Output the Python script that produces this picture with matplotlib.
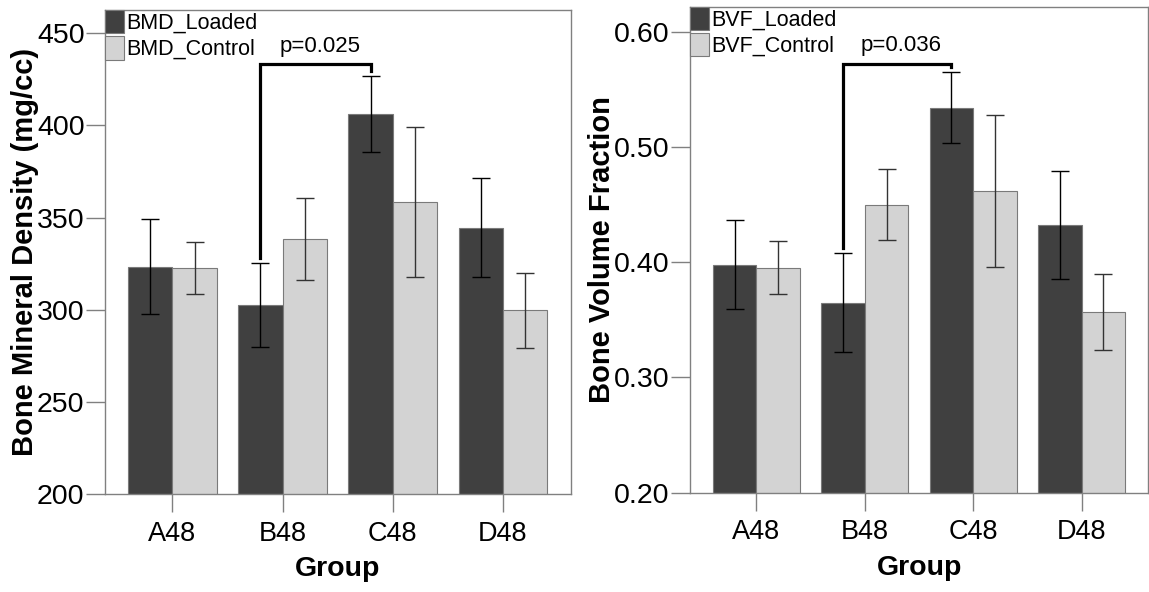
import numpy as np
import matplotlib.pyplot as plt
from matplotlib.patches import Patch

plt.rcParams['font.family'] = ['Liberation Sans', 'DejaVu Sans']

# Data
groups = ['A48', 'B48', 'C48', 'D48']

bmd_loaded = [323.5, 302.5, 406.3, 344.5]
bmd_loaded_err = [25.8, 22.8, 20.7, 26.9]
bmd_control = [322.8, 338.2, 358.5, 299.8]
bmd_control_err = [14.1, 22.2, 40.6, 20.3]
bmd_labels = ['BMD_Loaded', 'BMD_Control']
bmd_p = 'p=0.025'
bmd_bracket_top = 433.2

bvf_loaded = [0.398, 0.365, 0.534, 0.432]
bvf_loaded_err = [0.039, 0.043, 0.031, 0.047]
bvf_control = [0.395, 0.450, 0.462, 0.357]
bvf_control_err = [0.023, 0.031, 0.066, 0.033]
bvf_labels = ['BVF_Loaded', 'BVF_Control']
bvf_p = 'p=0.036'
bvf_bracket_top = 0.572

# styling
dark = '#404040'
light = '#d3d3d3'
edge = '#7a7a7a'
spine_col = '#808080'
w = 0.402  # bar width


def panel(ax, loaded, loaded_err, control, control_err, labels, ptxt,
          btop, ylim, yticks, fmt, ylabel, ylab_x):
    x = np.arange(len(groups))
    ax.bar(x - w / 2, loaded, w, color=dark, edgecolor=edge, linewidth=0.8, zorder=2)
    ax.bar(x + w / 2, control, w, color=light, edgecolor=edge, linewidth=0.8, zorder=2)
    ax.errorbar(x - w / 2, loaded, yerr=loaded_err, fmt='none', ecolor='black',
                elinewidth=1, capsize=6.5, capthick=1, zorder=3)
    ax.errorbar(x + w / 2, control, yerr=control_err, fmt='none', ecolor='#333333',
                elinewidth=1, capsize=6.5, capthick=1, zorder=3)

    ax.set_xlim(-0.612, 3.618)
    ax.set_ylim(*ylim)
    ax.set_yticks(yticks)
    ax.set_yticklabels([fmt.format(t) for t in yticks])
    ax.set_xticks(x)
    ax.set_xticklabels(groups)

    for s in ax.spines.values():
        s.set_color(spine_col)
        s.set_linewidth(1)
    ax.tick_params(axis='y', length=13.7, width=1, color=spine_col, pad=1, labelsize=20.5)
    ax.tick_params(axis='x', length=13, width=1, color=spine_col, pad=6, labelsize=19.5)

    ax.set_ylabel(ylabel, fontsize=21, fontweight='bold')
    ax.yaxis.label.set_va('center')
    ax.yaxis.set_label_coords(ylab_x, 0.5)
    ax.set_xlabel('Group', fontsize=20.5, fontweight='bold')
    ax.xaxis.label.set_va('center')
    ax.xaxis.set_label_coords(0.5, -0.155)

    # significance bracket between B48 loaded and C48 loaded
    rng = ylim[1] - ylim[0]
    gap = 0.01 * rng
    xl, xr = x[1] - w / 2, x[2] - w / 2
    yl = loaded[1] + loaded_err[1] + gap
    yr = loaded[2] + loaded_err[2] + gap
    ax.plot([xl, xl, xr, xr], [yl, btop, btop, yr], color='black', lw=2.3,
            solid_joinstyle='miter', zorder=4)
    ax.text((xl + xr) / 2 + 0.04, btop + 0.037 * rng, ptxt, fontsize=16,
            ha='center', va='center')

    handles = [Patch(facecolor=dark, edgecolor=edge, linewidth=0.8),
               Patch(facecolor=light, edgecolor=edge, linewidth=0.8)]
    ax.legend(handles, labels, loc='upper left', frameon=False, fontsize=15.5,
              handlelength=0.9, handleheight=1.3, handletextpad=0.1,
              labelspacing=0.1, borderaxespad=0.0, borderpad=0.0)


fig = plt.figure(figsize=(11.49, 5.92), dpi=100)
ax1 = fig.add_axes([0.09138, 0.16503, 0.40557, 0.81807])
ax2 = fig.add_axes([0.60052, 0.16774, 0.39904, 0.82095])

panel(ax1, bmd_loaded, bmd_loaded_err, bmd_control, bmd_control_err, bmd_labels,
      bmd_p, bmd_bracket_top, (200, 462.6), [200, 250, 300, 350, 400, 450], '{:.0f}',
      'Bone Mineral Density (mg/cc)', -0.172)
panel(ax2, bvf_loaded, bvf_loaded_err, bvf_control, bvf_control_err, bvf_labels,
      bvf_p, bvf_bracket_top, (0.20, 0.6217), [0.20, 0.30, 0.40, 0.50, 0.60], '{:.2f}',
      'Bone Volume Fraction', -0.192)

fig.savefig('out.png', dpi=100)
